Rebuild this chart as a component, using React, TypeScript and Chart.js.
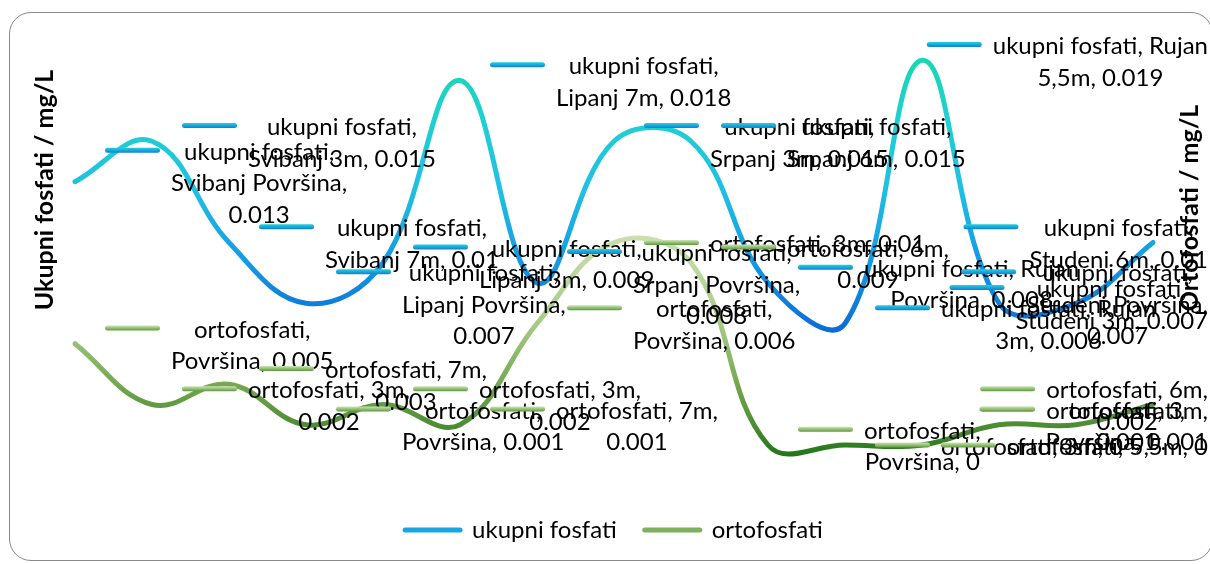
import React, { useEffect, useRef } from "react";
import { Chart, registerables } from "chart.js";

Chart.register(...registerables);

// ---------- data ----------
const months = [
  "Svibanj", "Svibanj", "Svibanj",
  "Lipanj", "Lipanj", "Lipanj",
  "Srpanj", "Srpanj", "Srpanj",
  "Rujan", "Rujan", "Rujan",
  "Studeni", "Studeni", "Studeni",
];
const depths = [
  "Površina", "3m", "7m",
  "Površina", "3m", "7m",
  "Površina", "3m", "6m",
  "Površina", "3m", "5,5m",
  "Površina", "3m", "6m",
];
const categories = months.map((m, i) => `${m} ${depths[i]}`);

const ukupniFosfati = [0.013, 0.015, 0.01, 0.007, 0.009, 0.018, 0.008, 0.015, 0.015, 0.008, 0.006, 0.019, 0.007, 0.007, 0.01];
const ortofosfati = [0.005, 0.002, 0.003, 0.001, 0.002, 0.001, 0.006, 0.01, 0.009, 0, 0, 0, 0.001, 0.001, 0.002];

const seriesNames = ["ukupni fosfati", "ortofosfati"];
const axisTitles = ["Ukupni fosfati / mg/L", "Ortofosfati / mg/L"];
const axisMin = 0;
const axisMax = 0.02;

// words per line of each data label (Excel wrapping)
const ukupniWrap = [[2, 2, 1], [2, 3], [2, 3], [2, 2, 1], [2, 3], [2, 3], [2, 2, 1], [2, 3], [2, 3], [3, 2], [3, 2], [3, 2], [2, 2, 1], [2, 3], [2, 3]];
const ortoWrap = [[1, 2], [2, 1], [2, 1], [1, 2], [2, 1], [2, 1], [1, 2], [3], [2, 1], [1, 2], [3], [3], [1, 2], [2, 1], [2, 1]];

// ---------- styles ----------
const FONT_FAMILY = "Lato, 'Open Sans', sans-serif";
const LABEL_FONT = `24px ${FONT_FAMILY}`;
const LINE_H = 31.5;
const KEY_W = 55;
const KEY_GAP = 11;

const ukupniStops: [number, string][] = [
  [0.0195, "#17d8ae"],
  [0.016, "#1fd0d2"],
  [0.0125, "#1fbfe2"],
  [0.009, "#1499e4"],
  [0.0055, "#0a6ad6"],
];
const ortoStops: [number, string][] = [
  [0.0105, "#cbe1b0"],
  [0.006, "#a8ca87"],
  [0.003, "#74a851"],
  [0.001, "#4e8d33"],
  [-0.0007, "#1c7315"],
];
const keyColors = [
  ["#22d3dc", "#0f7fd8"],
  ["#cfe4b8", "#5c9a3a"],
];
const legendColors = ["#17a6e0", "#7fb05c"];

function makeGradient(chart: any, scaleId: string, stops: [number, string][]) {
  const { ctx, chartArea, scales } = chart;
  if (!chartArea || !scales[scaleId]) return stops[Math.floor(stops.length / 2)][1];
  const s = scales[scaleId];
  const top = s.getPixelForValue(stops[0][0]);
  const bottom = s.getPixelForValue(stops[stops.length - 1][0]);
  const g = ctx.createLinearGradient(0, top, 0, bottom);
  stops.forEach(([v, c]) => {
    const t = (s.getPixelForValue(v) - top) / (bottom - top);
    g.addColorStop(Math.min(1, Math.max(0, t)), c);
  });
  return g;
}

function drawKey(ctx: CanvasRenderingContext2D, x: number, y: number, colors: string[]) {
  const g = ctx.createLinearGradient(0, y - 2.5, 0, y + 2.5);
  g.addColorStop(0, colors[0]);
  g.addColorStop(1, colors[1]);
  ctx.strokeStyle = g;
  ctx.lineWidth = 5;
  ctx.lineCap = "round";
  ctx.beginPath();
  ctx.moveTo(x + 2.5, y);
  ctx.lineTo(x + KEY_W - 2.5, y);
  ctx.stroke();
}

const labelCats = [categories, depths];
const labelWraps = [ukupniWrap, ortoWrap];

const dataLabelPlugin = {
  id: "excelDataLabels",
  afterDatasetsDraw(chart: any) {
    const ctx: CanvasRenderingContext2D = chart.ctx;
    ctx.save();
    ctx.font = LABEL_FONT;
    ctx.textAlign = "center";
    ctx.textBaseline = "middle";
    ctx.fillStyle = "#000";
    const rightLimit = chart.width - 2;
    chart.data.datasets.forEach((ds: any, di: number) => {
      const meta = chart.getDatasetMeta(di);
      meta.data.forEach((pt: any, i: number) => {
        const text = `${ds.label}, ${labelCats[di][i]}, ${ds.data[i]}`;
        const words = text.split(" ");
        const lines: string[] = [];
        let k = 0;
        labelWraps[di][i].forEach((n: number) => {
          lines.push(words.slice(k, k + n).join(" "));
          k += n;
        });
        const blockW = Math.max(...lines.map((l) => ctx.measureText(l).width));
        const total = KEY_W + KEY_GAP + blockW;
        let keyX = pt.x + 30;
        if (keyX + total > rightLimit) keyX = rightLimit - total;
        const keyY = pt.y - ((lines.length - 1) * LINE_H) / 2;
        drawKey(ctx, keyX, keyY, keyColors[di]);
        const cx = keyX + KEY_W + KEY_GAP + blockW / 2;
        ctx.fillStyle = "#000";
        lines.forEach((l, j) => ctx.fillText(l, cx, keyY + 2 + j * LINE_H));
      });
    });
    ctx.restore();
  },
};

const axisTitlePlugin = {
  id: "axisTitles",
  beforeDatasetsDraw(chart: any) {
    const ctx: CanvasRenderingContext2D = chart.ctx;
    const a = chart.chartArea;
    ctx.save();
    ctx.font = `bold 25px ${FONT_FAMILY}`;
    ctx.fillStyle = "#000";
    ctx.textAlign = "center";
    ctx.textBaseline = "middle";
    ctx.translate(a.left - 30, a.top + 150);
    ctx.rotate(-Math.PI / 2);
    ctx.fillText(axisTitles[0], 0, 0);
    ctx.restore();
    ctx.save();
    ctx.font = `bold 25px ${FONT_FAMILY}`;
    ctx.fillStyle = "#000";
    ctx.textAlign = "center";
    ctx.textBaseline = "middle";
    ctx.translate(a.right + 37, a.top + 168);
    ctx.rotate(-Math.PI / 2);
    ctx.fillText(axisTitles[1], 0, 0);
    ctx.restore();
  },
};

export default function App() {
  const canvasRef = useRef<HTMLCanvasElement | null>(null);

  useEffect(() => {
    if (!canvasRef.current) return;
    const chart = new Chart(canvasRef.current, {
      type: "line",
      data: {
        labels: categories,
        datasets: [
          {
            label: seriesNames[0],
            data: ukupniFosfati,
            yAxisID: "y",
            borderColor: (c: any) => makeGradient(c.chart, "y", ukupniStops),
            borderWidth: 5,
            tension: 0.4,
            pointRadius: 0,
            pointHoverRadius: 0,
            fill: false,
            clip: false as any,
            borderCapStyle: "round",
            borderJoinStyle: "round",
            order: 2,
          },
          {
            label: seriesNames[1],
            data: ortofosfati,
            yAxisID: "y2",
            borderColor: (c: any) => makeGradient(c.chart, "y2", ortoStops),
            borderWidth: 5,
            tension: 0.4,
            pointRadius: 0,
            pointHoverRadius: 0,
            fill: false,
            clip: false as any,
            borderCapStyle: "round",
            borderJoinStyle: "round",
            order: 1,
          },
        ],
      },
      options: {
        animation: false,
        responsive: false,
        devicePixelRatio: 1,
        layout: { padding: { left: 75, right: 57, top: 40, bottom: 12 } },
        elements: { line: { capBezierPoints: false } },
        scales: {
          x: {
            type: "category",
            offset: false,
            display: true,
            grid: { display: false },
            border: { display: false },
            ticks: { display: false },
            afterFit: (s: any) => {
              s.height = 45;
            },
          },
          y: { min: axisMin, max: axisMax, display: false, position: "left" },
          y2: { min: axisMin, max: axisMax, display: false, position: "right" },
        },
        plugins: {
          tooltip: { enabled: false },
          legend: {
            display: true,
            position: "bottom",
            labels: {
              usePointStyle: true,
              pointStyle: "line",
              pointStyleWidth: 55,
              boxHeight: 24,
              padding: 28,
              color: "#000",
              font: { family: FONT_FAMILY, size: 24 },
              generateLabels: (chart: any) =>
                chart.data.datasets.map((ds: any, i: number) => ({
                  text: ds.label,
                  fillStyle: legendColors[i],
                  strokeStyle: legendColors[i],
                  lineWidth: 5,
                  lineCap: "round",
                  pointStyle: "line",
                  hidden: false,
                  datasetIndex: i,
                  fontColor: "#000",
                })),
            },
          },
        },
      },
      plugins: [axisTitlePlugin, dataLabelPlugin],
    } as any);
    return () => chart.destroy();
  }, []);

  return (
    <div style={{ position: "absolute", left: 0, top: 0, width: 1210, height: 564, background: "#fff", overflow: "hidden" }}>
      <div
        style={{
          position: "absolute",
          left: 9,
          top: 12,
          width: 1204,
          height: 549,
          boxSizing: "border-box",
          border: "1.5px solid #8a8a8a",
          borderRadius: 22,
        }}
      />
      <canvas ref={canvasRef} width={1210} height={564} style={{ position: "absolute", left: 0, top: 0, width: 1210, height: 564 }} />
    </div>
  );
}
